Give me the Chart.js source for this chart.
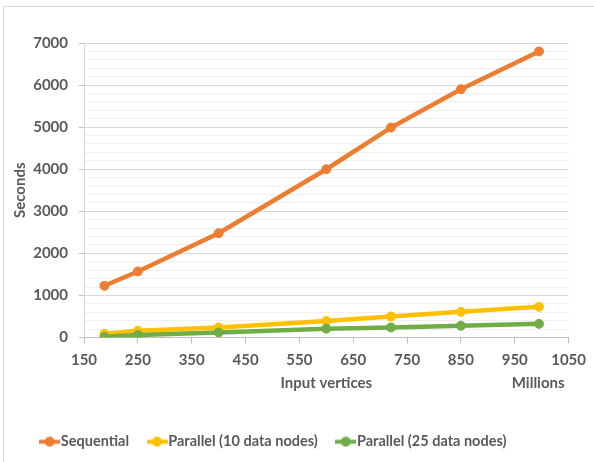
<!DOCTYPE html>
<html>
<head>
<meta charset="utf-8">
<script src="https://cdn.jsdelivr.net/npm/chart.js@4.4.1/dist/chart.umd.min.js"></script>
<style>
  html, body { margin: 0; padding: 0; background: #fff; }
  #wrap { position: relative; width: 594px; height: 462px; overflow: hidden; }
  #frame { position: absolute; left: 3px; top: 6px; right: -2px; bottom: -2px;
           border-left: 1px solid #d9d9d9; border-top: 1px solid #d9d9d9; }
  canvas { position: absolute; left: 0; top: 0; }
</style>
</head>
<body>
<div id="wrap">
  <div id="frame"></div>
  <canvas id="chart" width="594" height="462"></canvas>
</div>
<script>
// input vertices (millions) and run times in seconds
const xValues    = [188, 250, 400, 600, 720, 850, 995];
const sequential = [1230, 1570, 2480, 4000, 4990, 5900, 6800];
const parallel10 = [90, 160, 240, 390, 500, 610, 730];
const parallel25 = [15, 60, 120, 210, 240, 280, 325];

const seriesNames  = ['Sequential', 'Parallel (10 data nodes)', 'Parallel (25 data nodes)'];
const seriesColors = ['#ED7D31', '#FFC000', '#70AD47'];

const TEXT = '#595959';

Chart.defaults.font.family = 'Lato';
Chart.defaults.font.size = 15;
Chart.defaults.font.weight = 'bold';
Chart.defaults.color = TEXT;

// legend marker: short line with a dot in the middle
function legendIcon(color) {
  const c = document.createElement('canvas');
  c.width = 21; c.height = 11;
  const g = c.getContext('2d');
  g.strokeStyle = color;
  g.lineWidth = 4;
  g.beginPath(); g.moveTo(0, 5.5); g.lineTo(21, 5.5); g.stroke();
  g.fillStyle = color;
  g.beginPath(); g.arc(10.5, 5.5, 5, 0, Math.PI * 2); g.fill();
  return c;
}
const legendIcons = seriesColors.map(legendIcon);

function points(ys) {
  return xValues.map((x, i) => ({ x: x, y: ys[i] }));
}

function makeSet(i, ys) {
  return {
    label: seriesNames[i],
    data: points(ys),
    borderColor: seriesColors[i],
    backgroundColor: seriesColors[i],
    borderWidth: 4.5,
    pointRadius: 4.5,
    pointBorderWidth: 1,
    tension: 0,
    order: 3 - i
  };
}

// "Millions" display-unit label at the right end of the x axis
const unitsLabel = {
  id: 'unitsLabel',
  afterDraw(chart) {
    const xs = chart.scales.x;
    const ctx = chart.ctx;
    ctx.save();
    ctx.font = 'bold 15px Lato';
    ctx.fillStyle = TEXT;
    ctx.textAlign = 'right';
    ctx.textBaseline = 'middle';
    ctx.fillText('Millions', xs.right - 4, xs.top + 45.5);
    ctx.restore();
  }
};

new Chart(document.getElementById('chart'), {
  type: 'line',
  data: {
    datasets: [makeSet(0, sequential), makeSet(1, parallel10), makeSet(2, parallel25)]
  },
  options: {
    responsive: false,
    animation: false,
    // negative left padding keeps the legend centred like the original
    layout: { padding: { left: -20, right: 22, top: 43, bottom: 3 } },
    plugins: {
      tooltip: { enabled: false },
      legend: {
        position: 'bottom',
        labels: {
          usePointStyle: true,
          pointStyleWidth: 8,
          padding: 24,
          color: TEXT,
          font: { size: 14.5, weight: 'bold' },
          generateLabels: chart => Chart.defaults.plugins.legend.labels.generateLabels(chart).map(item => {
            item.pointStyle = legendIcons[item.datasetIndex];
            return item;
          }),
          sort: (a, b) => a.datasetIndex - b.datasetIndex
        }
      }
    },
    scales: {
      x: {
        type: 'linear',
        min: 150,
        max: 1050,
        ticks: { stepSize: 100, padding: 8, maxRotation: 0, autoSkip: false, callback: v => String(v) },
        grid: { drawOnChartArea: false, tickLength: 6, color: '#bfbfbf' },
        border: { color: '#bfbfbf' },
        title: { display: true, text: 'Input vertices', padding: { top: 0, bottom: 18.5 } },
        afterFit: s => { s.height = 73; }
      },
      y: {
        min: 0,
        max: 7000,
        ticks: {
          stepSize: 200, autoSkip: false, padding: 11,
          callback: v => (v % 1000 === 0 ? String(v) : '')
        },
        grid: {
          tickLength: 5,
          color: ctx => (ctx.tick && ctx.tick.value % 1000 === 0 ? '#d9d9d9' : '#f0f0f0'),
          tickColor: ctx => (ctx.tick && ctx.tick.value % 1000 === 0 ? '#bfbfbf' : 'rgba(0,0,0,0)')
        },
        border: { color: '#d9d9d9' },
        title: { display: true, text: 'Seconds', padding: { top: 31, bottom: 0 } },
        afterFit: s => { s.width = 104; }
      }
    }
  },
  plugins: [unitsLabel]
});
</script>
</body>
</html>
